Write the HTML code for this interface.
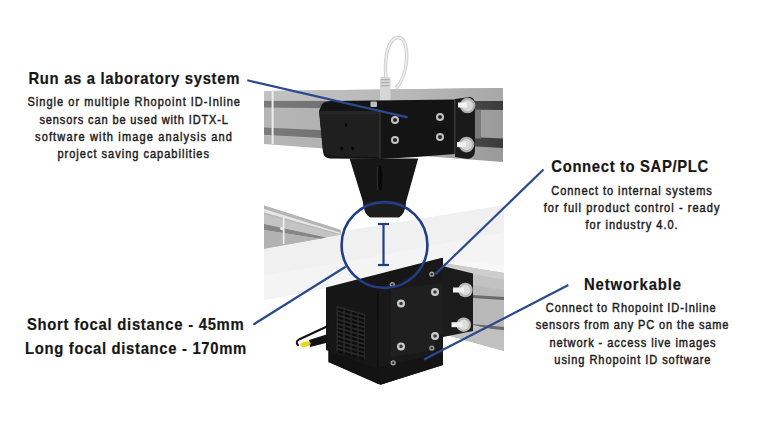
<!DOCTYPE html>
<html><head><meta charset="utf-8">
<style>
html,body{margin:0;padding:0;background:#fff;}
body{width:768px;height:432px;overflow:hidden;}
svg{display:block;}
.h{font-family:"Liberation Sans",sans-serif;font-weight:bold;font-size:16.5px;fill:#161616;stroke:#161616;stroke-width:0.2px;}
.b{font-family:"Liberation Sans",sans-serif;font-size:12px;fill:#1e1e1e;stroke:#1e1e1e;stroke-width:0.45px;}
</style></head>
<body>
<svg width="768" height="432" viewBox="0 0 768 432">
<rect width="768" height="432" fill="#fff"/>
<!-- ===== PHOTO ===== -->
<!-- white sheet -->
<polygon points="264,248 341,234.5 350,230 504,205 504,266 443,258 327,288 264,300" fill="#f0f0f0"/>
<polygon points="264,275 345,262 440,244 504,232 504,266 443,258 327,288 264,300" fill="#f4f4f4"/>
<!-- lower left rail -->
<polygon points="264,205.6 341,230 341,234.8 264,248.7" fill="#c4c4c4"/>
<polygon points="264,205.6 341,230 341,233 264,209" fill="#b4b4b4"/>
<polygon points="264,209 341,233 338,233.5 264,212.5" fill="#e6e6e6"/>
<polygon points="264,212.5 338,233.5 336,234 264,214.5" fill="#b9b9b9"/>
<polygon points="264,224 326,237.5 320,238.8 264,230" fill="#858585"/>
<polygon points="264,230 320,238.8 264,248.7" fill="#b2b2b2"/>
<rect x="282.8" y="217" width="1.8" height="27" fill="#ececec"/>
<circle cx="281.8" cy="228.5" r="1.6" fill="#f4f4f4"/>
<!-- lower right rail -->
<polygon points="443,262 504,270 504,351 443,334" fill="#b9b9b9"/>
<polygon points="443,258 504,266 504,273 443,263" fill="#f7f7f7"/>
<polygon points="443,263 504,273 504,280 443,269" fill="#cdcdcd"/>
<polygon points="443,269 504,280 504,290 443,280" fill="#c2c2c2"/>
<polygon points="472,295 504,297 504,300 472,298" fill="#6a6a6a"/>
<polygon points="472,324 504,327 504,330 472,327" fill="#6a6a6a"/>
<polygon points="443,318 504,332 504,351 443,334" fill="#c0c0c0"/>

<!-- upper rail -->
<defs>
<linearGradient id="rb" x1="264" y1="0" x2="503" y2="0" gradientUnits="userSpaceOnUse"><stop offset="0" stop-color="#b6b6b6"/><stop offset="0.6" stop-color="#acacac"/><stop offset="1" stop-color="#9a9a9a"/></linearGradient>
<linearGradient id="rt" x1="264" y1="0" x2="503" y2="0" gradientUnits="userSpaceOnUse"><stop offset="0" stop-color="#c2c2c2"/><stop offset="0.6" stop-color="#b8b8b8"/><stop offset="1" stop-color="#a8a8a8"/></linearGradient>
<linearGradient id="rg" x1="264" y1="0" x2="503" y2="0" gradientUnits="userSpaceOnUse"><stop offset="0" stop-color="#7a7a7a"/><stop offset="0.6" stop-color="#666"/><stop offset="1" stop-color="#3a3a3a"/></linearGradient>
</defs>
<polygon points="264,91 503,88 503,162 264,144" fill="url(#rb)"/>
<polygon points="264,91 503,88 503,101 264,100.6" fill="url(#rt)"/>
<polygon points="264,101 503,101 503,110 264,107.5" fill="url(#rg)"/>
<polygon points="264,127.5 503,138.5 503,148 264,134.8" fill="url(#rg)"/>
<rect x="475" y="110" width="6" height="28.5" fill="#7a7a7a"/>
<rect x="271.6" y="90" width="2" height="54" fill="#ededed"/>

<!-- cable loop -->
<path d="M386,77 C384,58 388,38 398,37.5 C407,37.5 408,55 405.5,68 C403.5,78 400,84 396,88" fill="none" stroke="#c9c9c9" stroke-width="3.4"/>
<path d="M386,77 C384,58 388,38 398,37.5 C407,37.5 408,55 405.5,68 C403.5,78 400,84 396,88" fill="none" stroke="#ececec" stroke-width="1.8"/>
<rect x="380" y="77" width="10.5" height="26" rx="1.5" fill="#d6d6d6"/>
<rect x="381" y="79" width="8.5" height="1.2" fill="#b0b0b0"/>
<rect x="381" y="82" width="8.5" height="1.2" fill="#b0b0b0"/>
<rect x="381" y="85" width="8.5" height="1.2" fill="#b0b0b0"/>

<!-- upper bracket -->
<path d="M319,111 L322,104 Q325,101 332,101 L455,99.5 L455,154 L416,157 L381,159 L330,158.5 Q324,158 323,152 Z" fill="#141414"/>
<path d="M455,99 L470,97 Q475,98 475,104 L475,150 Q475,158 468,159 L455,157 Z" fill="#1a1a1a"/>
<rect x="454" y="100" width="1.5" height="54" fill="#3a3a3a"/>
<path d="M319.3,111.3 L377,111.3 Q381,112 381.3,116 L381.3,157 L332,156.5 Q324,155 323,150 Z" fill="#1f1f1f"/>
<rect x="319.5" y="111" width="61.5" height="3" fill="#262626"/>
<rect x="379" y="111" width="2" height="48" fill="#2a2a2a"/>
<rect x="370.5" y="101.5" width="6.5" height="5.5" rx="1" fill="#bdbdbd"/>
<g fill="#050505"><ellipse cx="346" cy="125" rx="1.3" ry="2"/><ellipse cx="341.5" cy="148.3" rx="1.3" ry="2"/><ellipse cx="352.6" cy="148.3" rx="1.3" ry="2"/></g>
<!-- cone -->
<path d="M349.6,158.5 L418.2,158.5 L406,202 Q405,214 399,217.2 L370,217.2 Q364,214 363,202 Z" fill="#161616"/>
<path d="M363,202 Q364,214 370,217.2 L399,217.2 Q405,214 406,202 Q385,199 363,202 Z" fill="#1d1d1d"/>
<ellipse cx="380" cy="178" rx="2.3" ry="13" fill="#080808"/>
<path d="M377.6,167 Q376.8,178 377.8,190" fill="none" stroke="#2e2e2e" stroke-width="1"/>
<!-- screws upper -->
<g fill="#c4c4c4"><circle cx="395" cy="120" r="4"/><circle cx="395" cy="140" r="4"/><circle cx="440" cy="117" r="4"/><circle cx="440" cy="137" r="4"/></g>
<g fill="#2a2a2a"><circle cx="395" cy="120" r="2.1"/><circle cx="395" cy="140" r="2.1"/><circle cx="440" cy="117" r="2.1"/><circle cx="440" cy="137" r="2.1"/></g>
<!-- bolts upper -->
<g fill="#b0b0b0"><circle cx="467.5" cy="105.5" r="7.8"/><circle cx="466.5" cy="144.6" r="7.8"/></g>
<g fill="#d8d8d8"><circle cx="467.5" cy="105.5" r="5.5"/><circle cx="466.5" cy="144.6" r="5.5"/></g>
<g fill="#f2f2f2"><rect x="458" y="102.5" width="9" height="5"/><rect x="457" y="142.1" width="9" height="5"/></g>

<!-- lower box -->
<polygon points="326,287.5 441,258 443,258 443,364 381,384.5 328.5,362 328.5,351 326,350" fill="#161616"/>
<polygon points="377,292 443,259 443,365 381,384.5 378,384" fill="#191919"/>
<line x1="378" y1="292" x2="378" y2="384" stroke="#0a0a0a" stroke-width="1"/>
<polygon points="328.5,351 378,369 378,384 328.5,362" fill="#121212"/>
<polygon points="378,368 443,352 443,365 381,384.5 378,384" fill="#141414"/>
<!-- vent -->
<polygon points="336.5,305.7 365,314 365,359.4 336.5,351" fill="#2a2a2a"/>
<g fill="#0c0c0c">
<polygon points="337.8,307.9 343.4,309.5 343.4,311.9 337.8,310.3"/>
<polygon points="344.7,309.9 350.3,311.5 350.3,313.9 344.7,312.3"/>
<polygon points="351.6,311.9 357.2,313.5 357.2,315.9 351.6,314.3"/>
<polygon points="358.5,313.9 364.1,315.5 364.1,317.9 358.5,316.3"/>
<polygon points="337.8,312.1 343.4,313.7 343.4,316.1 337.8,314.5"/>
<polygon points="344.7,314.1 350.3,315.7 350.3,318.1 344.7,316.5"/>
<polygon points="351.6,316.1 357.2,317.7 357.2,320.1 351.6,318.5"/>
<polygon points="358.5,318.1 364.1,319.7 364.1,322.1 358.5,320.5"/>
<polygon points="337.8,316.3 343.4,317.9 343.4,320.3 337.8,318.7"/>
<polygon points="344.7,318.3 350.3,319.9 350.3,322.3 344.7,320.7"/>
<polygon points="351.6,320.3 357.2,321.9 357.2,324.3 351.6,322.7"/>
<polygon points="358.5,322.3 364.1,323.9 364.1,326.3 358.5,324.7"/>
<polygon points="337.8,320.5 343.4,322.1 343.4,324.5 337.8,322.9"/>
<polygon points="344.7,322.5 350.3,324.1 350.3,326.5 344.7,324.9"/>
<polygon points="351.6,324.5 357.2,326.1 357.2,328.5 351.6,326.9"/>
<polygon points="358.5,326.5 364.1,328.1 364.1,330.5 358.5,328.9"/>
<polygon points="337.8,324.7 343.4,326.3 343.4,328.7 337.8,327.1"/>
<polygon points="344.7,326.7 350.3,328.3 350.3,330.7 344.7,329.1"/>
<polygon points="351.6,328.7 357.2,330.3 357.2,332.7 351.6,331.1"/>
<polygon points="358.5,330.7 364.1,332.3 364.1,334.7 358.5,333.1"/>
<polygon points="337.8,328.9 343.4,330.5 343.4,332.9 337.8,331.3"/>
<polygon points="344.7,330.9 350.3,332.5 350.3,334.9 344.7,333.3"/>
<polygon points="351.6,332.9 357.2,334.5 357.2,336.9 351.6,335.3"/>
<polygon points="358.5,334.9 364.1,336.5 364.1,338.9 358.5,337.3"/>
<polygon points="337.8,333.1 343.4,334.7 343.4,337.1 337.8,335.5"/>
<polygon points="344.7,335.1 350.3,336.7 350.3,339.1 344.7,337.5"/>
<polygon points="351.6,337.1 357.2,338.7 357.2,341.1 351.6,339.5"/>
<polygon points="358.5,339.1 364.1,340.7 364.1,343.1 358.5,341.5"/>
<polygon points="337.8,337.3 343.4,338.9 343.4,341.3 337.8,339.7"/>
<polygon points="344.7,339.3 350.3,340.9 350.3,343.3 344.7,341.7"/>
<polygon points="351.6,341.3 357.2,342.9 357.2,345.3 351.6,343.7"/>
<polygon points="358.5,343.3 364.1,344.9 364.1,347.3 358.5,345.7"/>
<polygon points="337.8,341.5 343.4,343.1 343.4,345.5 337.8,343.9"/>
<polygon points="344.7,343.5 350.3,345.1 350.3,347.5 344.7,345.9"/>
<polygon points="351.6,345.5 357.2,347.1 357.2,349.5 351.6,347.9"/>
<polygon points="358.5,347.5 364.1,349.1 364.1,351.5 358.5,349.9"/>
<polygon points="337.8,345.7 343.4,347.3 343.4,349.7 337.8,348.1"/>
<polygon points="344.7,347.7 350.3,349.3 350.3,351.7 344.7,350.1"/>
<polygon points="351.6,349.7 357.2,351.3 357.2,353.7 351.6,352.1"/>
<polygon points="358.5,351.7 364.1,353.3 364.1,355.7 358.5,354.1"/>
<polygon points="337.8,349.9 343.4,351.5 343.4,353.9 337.8,352.3"/>
<polygon points="344.7,351.9 350.3,353.5 350.3,355.9 344.7,354.3"/>
<polygon points="351.6,353.9 357.2,355.5 357.2,357.9 351.6,356.3"/>
<polygon points="358.5,355.9 364.1,357.5 364.1,359.9 358.5,358.3"/>
</g>
<!-- mount plate -->
<polygon points="391,289 443,283 443,334 435,336 435,350 391,357" fill="#1f1f1f"/>
<path d="M442,266 L473,273.5 L473,331 L443,337 Z" fill="#1b1b1b"/>
<g fill="#cacaca"><circle cx="401" cy="303.5" r="4"/><circle cx="435" cy="292" r="4"/><circle cx="401" cy="346.4" r="4"/><circle cx="435" cy="336" r="4"/></g>
<g fill="#3a3a3a"><circle cx="401" cy="303.5" r="1.8"/><circle cx="435" cy="292" r="1.8"/><circle cx="401" cy="346.4" r="1.8"/><circle cx="435" cy="336" r="1.8"/></g>
<g fill="#a0a0a0"><circle cx="431.8" cy="274.2" r="2.6"/><circle cx="392.3" cy="284.5" r="2.6"/><circle cx="431.8" cy="348" r="2.6"/><circle cx="393.2" cy="362.8" r="2.6"/></g>
<g fill="#303030"><circle cx="431.8" cy="274.2" r="1.2"/><circle cx="392.3" cy="284.5" r="1.2"/><circle cx="431.8" cy="348" r="1.2"/><circle cx="393.2" cy="362.8" r="1.2"/></g>
<!-- bolts lower -->
<g fill="#b8b8b8"><circle cx="465.4" cy="290" r="7.3"/><circle cx="463.7" cy="324.7" r="7.3"/></g>
<g fill="#dcdcdc"><circle cx="465.4" cy="290" r="5"/><circle cx="463.7" cy="324.7" r="5"/></g>
<g fill="#f0f0f0"><rect x="453" y="287.5" width="11" height="5"/><rect x="451.5" y="322.2" width="11" height="5"/></g>
<!-- cable -->
<path d="M328,326 L299,339.5 Q295,342 298,345" fill="none" stroke="#111" stroke-width="2" stroke-linecap="round"/>
<polygon points="309,340 328,334 328,342.5 310,347" fill="#121212"/>
<ellipse cx="305.5" cy="344.2" rx="5.3" ry="2.6" transform="rotate(-14 305.5 344.2)" fill="#e6d816"/>

<!-- ===== ANNOTATIONS ===== -->
<g stroke="#2a4a8c" stroke-width="2.2" fill="none">
<line x1="247.3" y1="80.3" x2="407.6" y2="117.4"/>
<line x1="543.5" y1="169.5" x2="435.5" y2="274"/>
<line x1="568.4" y1="285" x2="424" y2="359.6"/>
<line x1="253.3" y1="324.6" x2="345.6" y2="266.7"/>
</g>
<circle cx="384.5" cy="245" r="42.9" fill="none" stroke="#223d85" stroke-width="2.6"/>
<g stroke="#223d85" stroke-width="2.2">
<line x1="383.5" y1="224" x2="383.5" y2="265"/>
<line x1="378" y1="224" x2="389" y2="224"/>
<line x1="378" y1="265" x2="389" y2="265"/>
</g>

<!-- ===== TEXT ===== -->
<text class="h" x="31.56" y="83.6" textLength="234.44" lengthAdjust="spacing" transform="scale(0.9,1)">Run as a laboratory system</text>
<text class="b" x="29.89" y="106.4" textLength="230.98" lengthAdjust="spacing" transform="scale(0.92,1)">Single or multiple Rhopoint ID-Inline</text>
<text class="b" x="42.93" y="123.8" textLength="204.89" lengthAdjust="spacing" transform="scale(0.92,1)">sensors can be used with IDTX-L</text>
<text class="b" x="38.04" y="140.9" textLength="214.13" lengthAdjust="spacing" transform="scale(0.92,1)">software with image analysis and</text>
<text class="b" x="62.39" y="158.0" textLength="164.78" lengthAdjust="spacing" transform="scale(0.92,1)">project saving capabilities</text>
<text class="h" x="612.56" y="172.4" textLength="174.44" lengthAdjust="spacing" transform="scale(0.9,1)">Connect to SAP/PLC</text>
<text class="b" x="599.24" y="194.6" textLength="174.46" lengthAdjust="spacing" transform="scale(0.92,1)">Connect to internal systems</text>
<text class="b" x="590.98" y="212.0" textLength="191.09" lengthAdjust="spacing" transform="scale(0.92,1)">for full product control - ready</text>
<text class="b" x="636.41" y="229.0" textLength="100.22" lengthAdjust="spacing" transform="scale(0.92,1)">for industry 4.0.</text>
<text class="h" x="648.78" y="290.4" textLength="107.89" lengthAdjust="spacing" transform="scale(0.9,1)">Networkable</text>
<text class="b" x="593.26" y="312.3" textLength="184.57" lengthAdjust="spacing" transform="scale(0.92,1)">Connect to Rhopoint ID-Inline</text>
<text class="b" x="582.28" y="329.5" textLength="209.57" lengthAdjust="spacing" transform="scale(0.92,1)">sensors from any PC on the same</text>
<text class="b" x="597.28" y="346.6" textLength="180.54" lengthAdjust="spacing" transform="scale(0.92,1)">network - access live images</text>
<text class="b" x="602.50" y="363.8" textLength="169.78" lengthAdjust="spacing" transform="scale(0.92,1)">using Rhopoint ID software</text>
<text class="h" x="29.89" y="330" textLength="240.94" lengthAdjust="spacing" transform="scale(0.9,1)">Short focal distance - 45mm</text>
<text class="h" x="27.78" y="354.4" textLength="245.83" lengthAdjust="spacing" transform="scale(0.9,1)">Long focal distance - 170mm</text>
</svg>
</body></html>
